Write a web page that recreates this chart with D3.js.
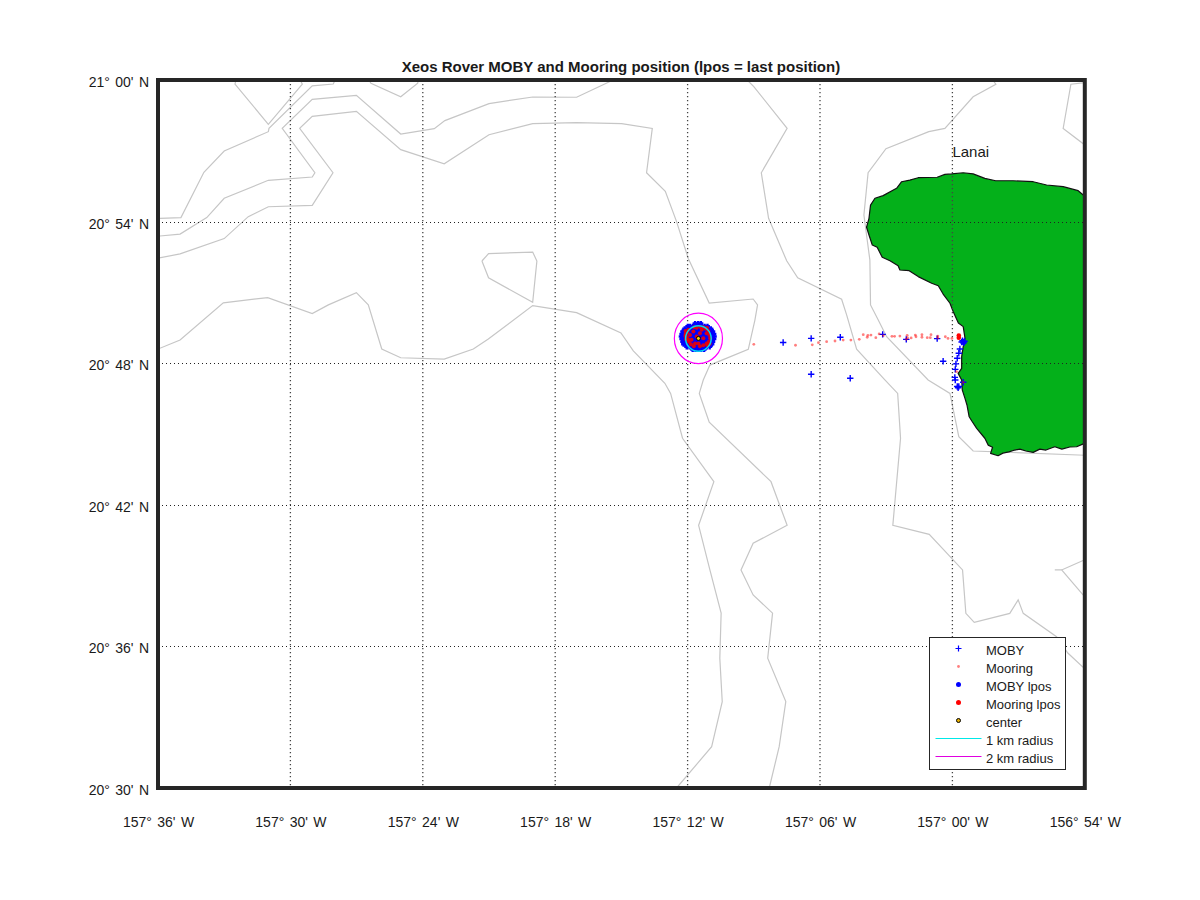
<!DOCTYPE html>
<html>
<head>
<meta charset="utf-8">
<script src="https://cdn.jsdelivr.net/npm/d3@7"></script>
<style>
	body { margin: 0; background: #fff; }
	text { font-family: "Liberation Sans", Arial, sans-serif; fill: #1a1a1a; }
</style>
</head>
<body>
<svg id="map" width="1200" height="900"></svg>
<script>
// all positions in arc-minutes: lon = minutes west of 157 deg, lat = minutes north of 20 deg
const lonTicks = [36, 30, 24, 18, 12, 6, 0, -6];
const lonTickLabels = ["157° 36' W", "157° 30' W", "157° 24' W", "157° 18' W", "157° 12' W", "157° 06' W", "157° 00' W", "156° 54' W"];
const latTicks = [60, 54, 48, 42, 36, 30];
const latTickLabels = ["21° 00' N", "20° 54' N", "20° 48' N", "20° 42' N", "20° 36' N", "20° 30' N"];

const contourA = [[36, 54.14], [35.91, 54.14], [34.96, 54.17], [33.92, 56.09], [33.00, 56.99], [31.00, 57.81], [30.97, 57.95], [29.01, 59.75], [28.06, 59.83], [27.97, 60]];
const contourB = [[36, 53.35], [35.91, 53.39], [35.00, 53.47], [33.79, 54.17], [33.00, 54.99], [31.00, 55.75], [29.01, 55.89], [28.89, 56.07], [30.37, 57.95], [29.01, 59.18], [27.01, 59.35], [25.00, 57.71], [23.48, 57.94], [23.00, 58.28], [21.00, 59.00], [19.02, 59.28], [17.03, 59.27], [15.37, 60]];
const contourC = [[36, 52.45], [35.00, 52.63], [33.00, 53.28], [31.91, 54.21], [31.00, 54.63], [29.01, 54.69], [28.07, 56.07], [29.58, 57.95], [29.01, 58.46], [27.01, 58.67], [25.00, 57.05], [23.03, 56.45], [21.00, 57.68], [19.02, 58.15], [17.03, 58.19], [14.99, 58.15], [13.60, 57.95], [13.86, 56.07], [13.01, 55.28], [12.50, 54.00], [11.97, 52.44], [11.02, 50.55], [9.03, 50.72], [8.83, 50.47], [8.95, 49.83], [9.25, 48.59], [10.99, 47.92], [11.29, 47.29], [11.47, 46.72], [11.02, 45.50], [8.22, 42.98], [7.49, 41.13], [9.03, 40.37], [9.58, 39.24], [9.03, 38.18], [8.15, 37.41], [8.37, 35.50], [7.55, 33.66], [7.85, 31.75], [8.30, 30]];
const contourD = [[36, 48.60], [35.00, 48.98], [33.04, 50.56], [31.03, 50.78], [29.01, 50.10], [28.28, 50.47], [27.01, 50.99], [26.47, 50.47], [25.86, 48.60], [25.00, 48.23], [23.03, 48.17], [21.71, 48.60], [21.03, 49.03], [19.02, 50.44], [17.03, 50.14], [15.02, 49.28], [14.46, 48.52], [13.03, 47.15], [12.77, 46.72], [12.23, 44.82], [10.81, 42.98], [11.50, 41.13], [10.99, 39.24], [10.48, 37.41], [10.54, 35.50], [10.43, 33.66], [10.91, 31.75], [12.50, 30]];
const contourE = [[9.30, 60], [9.00, 59.72], [7.49, 57.95], [8.66, 56.07], [8.33, 54.14], [7.51, 52.34], [7.01, 51.62], [5.02, 50.71], [4.79, 50.04], [4.34, 48.59], [3.06, 47.29], [2.48, 46.72], [2.35, 44.82], [2.70, 41.13], [1.05, 40.75], [-0.46, 39.24], [-0.61, 37.40], [-0.99, 37.02], [-2.60, 37.40], [-2.98, 37.97], [-3.21, 37.40], [-4.72, 36.41], [-5.23, 35.72], [-6, 35.05]];
const contourF = [[-1.83, 60], [-1.97, 59.82], [-0.94, 59.29], [0.34, 57.95], [1.07, 57.81], [3.01, 57.09], [3.82, 56.07], [4.01, 54.28], [3.74, 52.37], [3.71, 50.47], [3.36, 49.83], [2.98, 49.12], [1.10, 47.29], [0.11, 46.72], [-0.29, 44.89], [-0.94, 44.28], [-6, 44.10]];
const contourG = [[32.47, 60], [32.51, 59.83], [31.00, 58.12], [29.46, 59.82], [29.55, 60]];
const contourH = [[26.44, 60], [26.35, 59.86], [25.00, 59.29], [24.23, 59.86], [24.21, 60]];
const contourI = [[21.32, 52.33], [21.02, 52.64], [19.02, 52.71], [18.83, 52.33], [19.02, 50.58], [21.02, 51.62], [21.32, 52.33]];
const contourJ = [[-6, 59.89], [-5.37, 59.82], [-5.02, 57.95], [-6, 57.25]];
const contourK = [[-6, 39.67], [-4.95, 39.24], [-4.64, 39.24], [-4.95, 39.24], [-6, 38.10]];
const contours = [contourA, contourB, contourC, contourD, contourE, contourF, contourG, contourH, contourI, contourJ, contourK];

const lanaiCoast = [[-6, 55.13], [-5.93, 55.13], [-5.70, 55.31], [-5.02, 55.48], [-4.27, 55.55], [-3.66, 55.69], [-2.75, 55.73], [-1.96, 55.73], [-1.47, 55.83], [-0.94, 56.02], [-0.49, 56.07], [0.04, 56.02], [0.34, 56.00], [0.69, 55.88], [1.55, 55.86], [1.93, 55.76], [2.30, 55.69], [2.53, 55.41], [3.14, 55.10], [3.51, 54.99], [3.71, 54.70], [3.78, 54.14], [3.89, 53.76], [3.78, 53.43], [3.63, 53.01], [3.41, 52.91], [3.18, 52.49], [2.83, 52.34], [2.46, 52.13], [2.38, 51.95], [1.96, 51.92], [1.55, 51.67], [0.94, 51.39], [0.64, 51.28], [0.42, 50.93], [0.11, 50.54], [-0.04, 50.18], [-0.27, 49.70], [-0.49, 49.55], [-0.57, 49.06], [-0.49, 48.70], [-0.42, 48.28], [-0.42, 47.78], [-0.26, 47.57], [-0.42, 47.29], [-0.45, 46.86], [-0.57, 46.51], [-0.66, 46.23], [-0.76, 45.73], [-0.88, 45.55], [-1.10, 45.24], [-1.47, 44.82], [-1.62, 44.53], [-1.82, 44.44], [-1.73, 44.18], [-2.07, 44.08], [-2.29, 44.19], [-2.56, 44.24], [-2.83, 44.32], [-3.06, 44.36], [-3.33, 44.28], [-3.66, 44.22], [-3.96, 44.36], [-4.24, 44.32], [-4.64, 44.46], [-4.96, 44.36], [-5.32, 44.45], [-5.63, 44.46], [-5.93, 44.58], [-6, 44.58]];

const mobyTrack = [[7.67, 48.88], [6.40, 49.05], [5.08, 49.10], [3.16, 49.22], [2.09, 49.01], [0.69, 49.04], [6.40, 47.53], [4.63, 47.36], [0.42, 48.08], [-0.46, 48.95], [-0.52, 48.86], [-0.42, 48.90], [-0.55, 48.93], [-0.34, 48.60], [-0.29, 48.42], [-0.22, 48.21], [-0.16, 47.97], [-0.13, 47.74], [-0.11, 47.40], [-0.13, 47.29], [-0.49, 47.19], [-0.22, 47.01], [-0.29, 47.01], [-0.26, 46.96]];
const mobyClusterLat = [49.68, 49.57, 49.46, 49.35, 49.24, 49.13, 49.02, 48.91, 48.80, 48.69, 48.58];
const mobyClusterLon = [
	[11.40, 11.52, 11.66],
	[11.10, 11.23, 11.36, 11.49, 11.62, 11.75, 11.88, 11.99],
	[10.95, 11.08, 11.21, 11.34, 11.47, 11.60, 11.73, 11.86, 11.99, 12.13],
	[10.86, 10.99, 11.12, 11.25, 11.38, 11.51, 11.64, 11.77, 11.90, 12.03, 12.16, 12.22],
	[10.81, 10.94, 11.07, 11.20, 11.33, 11.46, 11.59, 11.72, 11.85, 11.98, 12.11, 12.26],
	[10.79, 10.92, 11.05, 11.18, 11.31, 11.44, 11.57, 11.70, 11.83, 11.96, 12.09, 12.22, 12.29],
	[10.81, 10.94, 11.07, 11.20, 11.33, 11.46, 11.59, 11.72, 11.85, 11.98, 12.11, 12.26],
	[10.86, 10.99, 11.12, 11.25, 11.38, 11.51, 11.64, 11.77, 11.90, 12.03, 12.16, 12.22],
	[10.90, 11.03, 11.16, 11.29, 11.42, 11.55, 11.68, 11.81, 11.94, 12.07, 12.18],
	[11.00, 11.13, 11.26, 11.39, 11.52, 11.65, 11.78, 11.91, 12.04],
	[11.25, 11.38, 11.51, 11.64, 11.77]
];
const mooringTrack = [[9.00, 48.80], [7.11, 48.76], [6.35, 48.78], [6.07, 48.87], [5.70, 48.91], [5.32, 48.94], [4.95, 48.98], [4.60, 48.98], [4.22, 49.01], [4.04, 49.21], [3.86, 49.10], [3.83, 49.18], [3.69, 49.19], [3.47, 49.08], [3.32, 49.24], [3.13, 49.17], [2.74, 49.14], [2.62, 49.14], [2.38, 49.15], [2.09, 49.01], [2.05, 49.18], [2.03, 49.07], [1.87, 49.07], [1.68, 49.19], [1.65, 49.12], [1.38, 49.21], [1.38, 49.10], [1.14, 49.08], [1.00, 49.08], [0.97, 49.21], [0.66, 49.15], [0.66, 49.07], [0.32, 49.12], [0.20, 49.05], [0.02, 49.05], [-0.19, 47.64], [-0.49, 47.19]];
const mooringCluster = [[12.09, 49.36], [12.02, 49.30], [12.09, 49.24], [11.96, 49.42], [12.10, 49.15], [12.03, 49.10], [11.96, 48.99], [12.07, 49.02], [11.70, 49.52], [11.59, 49.50], [11.44, 49.54], [11.29, 49.52], [11.18, 49.46], [11.36, 49.42], [11.06, 49.36], [11.12, 49.50], [11.14, 49.27], [11.02, 49.20], [10.98, 49.06], [11.04, 48.91], [11.14, 48.84], [11.00, 48.82], [11.10, 48.76], [11.29, 48.76], [11.44, 48.72], [11.85, 48.80], [11.72, 48.72], [11.94, 48.91], [11.66, 48.84], [11.51, 48.84], [11.82, 48.99], [11.74, 49.34], [11.44, 49.27], [11.29, 49.06], [11.89, 49.20], [11.59, 49.13]];

const mobyLast = [-0.49, 48.90];
const mooringLast = [[-0.29, 49.17], [-0.29, 49.08]];
const center = [11.51, 49.05];
const radiusLonMin = [0.58, 1.09];
const radiusLatMin = [0.54, 1.07];
const radiusColors = ["#00d8f0", "#ff00ff"];

const legendLabels = ["MOBY", "Mooring", "MOBY lpos", "Mooring lpos", "center", "1 km radius", "2 km radius"];

const margin = { top: 80, right: 115.2, bottom: 112, left: 158 };
const width = 1200 - margin.left - margin.right;
const height = 900 - margin.top - margin.bottom;

const svg = d3.select("#map");

const x = d3.scaleLinear().domain([36, -6]).range([margin.left, margin.left + width]);
const y = d3.scaleLinear().domain([60, 30]).range([margin.top, margin.top + height]);

svg.append("defs").append("clipPath")
	.attr("id", "plot-clip")
	.append("rect")
	.attr("x", margin.left)
	.attr("y", margin.top)
	.attr("width", width)
	.attr("height", height);

const plot = svg.append("g").attr("clip-path", "url(#plot-clip)");
const line = d3.line().x(d => x(d[0])).y(d => y(d[1]));

plot.selectAll(".contour")
	.data(contours)
	.enter().append("path")
	.attr("class", "contour")
	.attr("d", line)
	.attr("fill", "none")
	.attr("stroke", "#c6c6c6")
	.attr("stroke-width", 1.2);

plot.append("path")
	.attr("d", line(lanaiCoast) + "Z")
	.attr("fill", "#04b01a")
	.attr("stroke", "#111")
	.attr("stroke-width", 1.2)
	.attr("stroke-linejoin", "round");

// grid sits over the island
plot.selectAll(".vgrid")
	.data(lonTicks.slice(1, -1))
	.enter().append("line")
	.attr("class", "vgrid")
	.attr("x1", d => x(d))
	.attr("x2", d => x(d))
	.attr("y1", margin.top)
	.attr("y2", margin.top + height)
	.attr("stroke", "#444")
	.attr("stroke-width", 1.3)
	.attr("stroke-dasharray", "1.2 2.8");

plot.selectAll(".hgrid")
	.data(latTicks.slice(1, -1))
	.enter().append("line")
	.attr("class", "hgrid")
	.attr("x1", margin.left)
	.attr("x2", margin.left + width)
	.attr("y1", d => Math.round(y(d)) + 0.5)
	.attr("y2", d => Math.round(y(d)) + 0.5)
	.attr("stroke", "#222")
	.attr("stroke-dasharray", "1 3");

function plusPath(cx, cy, r) {
	return `M${cx - r},${cy}H${cx + r}M${cx},${cy - r}V${cy + r}`;
}

const mobyCluster = mobyClusterLat.flatMap((lat, i) => mobyClusterLon[i].map(lon => [lon, lat]));

plot.selectAll(".moby-cluster")
	.data(mobyCluster)
	.enter().append("path")
	.attr("class", "moby-cluster")
	.attr("d", d => plusPath(x(d[0]), y(d[1]), 2.5))
	.attr("fill", "none")
	.attr("stroke", "#0000ff")
	.attr("stroke-width", 2.4);

plot.selectAll(".moby")
	.data(mobyTrack)
	.enter().append("path")
	.attr("class", "moby")
	.attr("d", d => plusPath(x(d[0]), y(d[1]), 3.2))
	.attr("fill", "none")
	.attr("stroke", "#0000ff")
	.attr("stroke-width", 1.4);

plot.selectAll(".mooring")
	.data(mooringTrack)
	.enter().append("circle")
	.attr("class", "mooring")
	.attr("cx", d => x(d[0]))
	.attr("cy", d => y(d[1]))
	.attr("r", 1.4)
	.attr("fill", "#ff0000")
	.attr("fill-opacity", 0.5);

plot.selectAll(".mooring-cluster")
	.data(mooringCluster)
	.enter().append("circle")
	.attr("class", "mooring-cluster")
	.attr("cx", d => x(d[0]))
	.attr("cy", d => y(d[1]))
	.attr("r", 2)
	.attr("fill", "#f00000")
	.attr("fill-opacity", 0.9);

plot.append("circle")
	.attr("cx", x(mobyLast[0]))
	.attr("cy", y(mobyLast[1]))
	.attr("r", 3)
	.attr("fill", "#0000ff");

plot.selectAll(".mooring-last")
	.data(mooringLast)
	.enter().append("circle")
	.attr("class", "mooring-last")
	.attr("cx", d => x(d[0]))
	.attr("cy", d => y(d[1]))
	.attr("r", 2.3)
	.attr("fill", "#ff0000");

plot.selectAll(".radius")
	.data(radiusColors)
	.enter().append("ellipse")
	.attr("class", "radius")
	.attr("cx", x(center[0]))
	.attr("cy", y(center[1]))
	.attr("rx", (d, i) => x(center[0] - radiusLonMin[i]) - x(center[0]))
	.attr("ry", (d, i) => y(center[1] - radiusLatMin[i]) - y(center[1]))
	.attr("fill", "none")
	.attr("stroke", d => d)
	.attr("stroke-width", (d, i) => i === 0 ? 1.5 : 1.2);

plot.append("circle")
	.attr("cx", x(center[0]))
	.attr("cy", y(center[1]))
	.attr("r", 2)
	.attr("fill", "#ffd000")
	.attr("stroke", "#000")
	.attr("stroke-width", 1);

// axes only carry the labels, the box is drawn after
const lonAxis = svg.append("g")
	.attr("transform", `translate(0,${margin.top + height})`)
	.call(d3.axisBottom(x).tickValues(lonTicks).tickSize(0).tickPadding(29).tickFormat((d, i) => lonTickLabels[i]));
lonAxis.select(".domain").remove();
lonAxis.selectAll("text").attr("font-size", "14px").style("font-family", null).style("word-spacing", "1.5px");

const latAxis = svg.append("g")
	.attr("transform", `translate(${margin.left},0)`)
	.call(d3.axisLeft(y).tickValues(latTicks).tickSize(0).tickPadding(9).tickFormat((d, i) => latTickLabels[i]));
latAxis.select(".domain").remove();
latAxis.selectAll("text").attr("font-size", "14px").attr("dy", "0.46em").style("font-family", null).style("word-spacing", "1.5px");

svg.append("rect")
	.attr("x", margin.left)
	.attr("y", margin.top)
	.attr("width", width)
	.attr("height", height)
	.attr("fill", "none")
	.attr("stroke", "#262626")
	.attr("stroke-width", 4);

svg.append("text")
	.attr("x", margin.left + width / 2 - 0.5)
	.attr("y", 72)
	.attr("text-anchor", "middle")
	.attr("font-size", "15px")
	.attr("font-weight", "bold")
	.text("Xeos Rover MOBY and Mooring position (lpos = last position)");

svg.append("text")
	.attr("x", x(0))
	.attr("y", 157)
	.attr("font-size", "15px")
	.text("Lanai");

// legend
const legend = svg.append("g");

legend.append("rect")
	.attr("x", 929.5)
	.attr("y", 637.5)
	.attr("width", 136)
	.attr("height", 132)
	.attr("fill", "#fff")
	.attr("stroke", "#262626")
	.attr("stroke-width", 1);

const rowY = i => 648.5 + i * 18;
const symbolX = 958.5;

legend.selectAll(".legend-label")
	.data(legendLabels)
	.enter().append("text")
	.attr("class", "legend-label")
	.attr("x", 986)
	.attr("y", (d, i) => rowY(i) + 6)
	.attr("font-size", "13px")
	.text(d => d);

legend.append("path")
	.attr("d", plusPath(symbolX, rowY(0), 3))
	.attr("stroke", "#0000ff")
	.attr("stroke-width", 1.2);

legend.append("circle").attr("cx", symbolX).attr("cy", rowY(1)).attr("r", 1.4).attr("fill", "#ff0000").attr("fill-opacity", 0.5);
legend.append("circle").attr("cx", symbolX).attr("cy", rowY(2)).attr("r", 2.5).attr("fill", "#0000ff");
legend.append("circle").attr("cx", symbolX).attr("cy", rowY(3)).attr("r", 2.5).attr("fill", "#ff0000");
legend.append("circle").attr("cx", symbolX).attr("cy", rowY(4)).attr("r", 2).attr("fill", "#e8b000").attr("stroke", "#000").attr("stroke-width", 1);

legend.selectAll(".legend-line")
	.data(radiusColors)
	.enter().append("line")
	.attr("class", "legend-line")
	.attr("x1", 935.5)
	.attr("x2", 981.5)
	.attr("y1", (d, i) => Math.floor(rowY(5 + i)) + 0.5)
	.attr("y2", (d, i) => Math.floor(rowY(5 + i)) + 0.5)
	.attr("stroke", d => d === "#ff00ff" ? "#e000e0" : "#00e8e8");
</script>
</body>
</html>
